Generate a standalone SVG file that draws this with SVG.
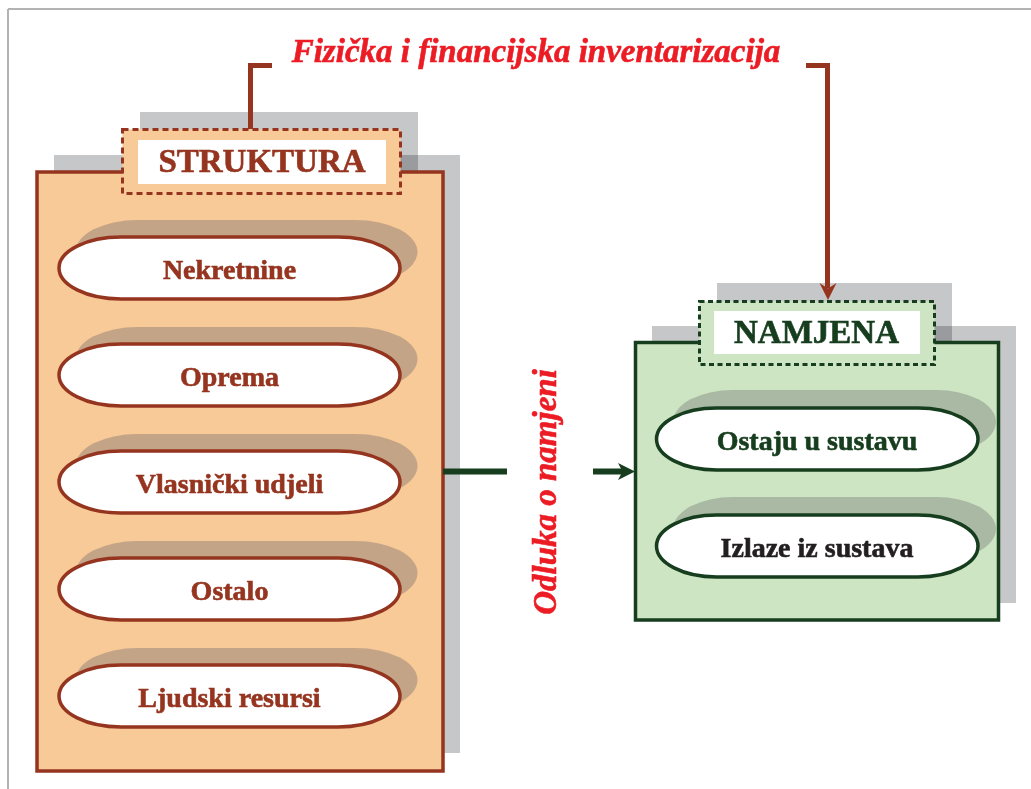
<svg xmlns="http://www.w3.org/2000/svg" width="1031" height="789" viewBox="0 0 1031 789">
  <style>
    .frame { stroke: #b3b3b3; stroke-width: 2; fill: none; }
    .gsh { fill: #c6c7c9; mix-blend-mode: multiply; }
    .bbox { fill: #f8ca97; stroke: #95341f; stroke-width: 3.5; }
    .blabel { fill: #f8ca97; stroke: #95341f; stroke-width: 3; stroke-dasharray: 6 4; }
    .gbox { fill: #cee5c3; stroke: #163d1d; stroke-width: 3.5; }
    .glabel { fill: #cee5c3; stroke: #163d1d; stroke-width: 3; stroke-dasharray: 5 3.5; }
    .white { fill: #ffffff; }
    .bpill { fill: #ffffff; stroke: #95341f; stroke-width: 3.5; }
    .bpsh { fill: #c4a487; }
    .gpill { fill: #ffffff; stroke: #163d1d; stroke-width: 3.5; }
    .gpsh { fill: #a9b9a4; }
    .t { font-family: "Liberation Serif", "Times New Roman", serif; font-weight: bold; text-anchor: middle; stroke-width: 0.6; }
    .head { font-size: 33px; }
    .item { font-size: 28px; }
    .btxt { fill: #95341f; stroke: #95341f; }
    .gtxt { fill: #163d1d; stroke: #163d1d; }
    .ktxt { fill: #231f20; stroke: #231f20; }
    .red { fill: #ec1c24; stroke: #ec1c24; font-style: italic; font-size: 33px; }
    .bline { stroke: #95341f; stroke-width: 5; fill: none; stroke-linejoin: miter; }
    .gline { stroke: #163d1d; stroke-width: 6; fill: none; }
  </style>

  <g id="frame">
    <line class="frame" x1="8" y1="9" x2="1031" y2="9"/>
    <line class="frame" x1="8" y1="9" x2="8" y2="789"/>
  </g>

  <g id="struktura">
    <rect class="gsh" x="54" y="155" width="406" height="598"/>
    <rect class="gsh" x="140" y="112" width="278" height="90"/>
    <rect class="bbox" x="37" y="172" width="406" height="599"/>
    <rect class="blabel" x="122.5" y="129.5" width="278" height="64"/>
    <rect class="white" x="138" y="140" width="248" height="44"/>
    <text class="t head btxt" x="262" y="172">STRUKTURA</text>
  </g>

  <g id="nekretnine">
    <rect class="bpsh" x="75.5" y="220" width="342" height="64" rx="62" ry="32"/>
    <rect class="bpill" x="59" y="237" width="341" height="62" rx="62" ry="31"/>
    <text class="t item btxt" x="229.5" y="279">Nekretnine</text>
  </g>
  <g id="oprema">
    <rect class="bpsh" x="75.5" y="327" width="342" height="64" rx="62" ry="32"/>
    <rect class="bpill" x="59" y="344" width="341" height="62" rx="62" ry="31"/>
    <text class="t item btxt" x="229.5" y="386">Oprema</text>
  </g>
  <g id="vlasnicki">
    <rect class="bpsh" x="75.5" y="434" width="342" height="64" rx="62" ry="32"/>
    <rect class="bpill" x="59" y="451" width="341" height="62" rx="62" ry="31"/>
    <text class="t item btxt" x="229.5" y="493">Vlasnički udjeli</text>
  </g>
  <g id="ostalo">
    <rect class="bpsh" x="75.5" y="541" width="342" height="64" rx="62" ry="32"/>
    <rect class="bpill" x="59" y="558" width="341" height="62" rx="62" ry="31"/>
    <text class="t item btxt" x="229.5" y="600">Ostalo</text>
  </g>
  <g id="ljudski">
    <rect class="bpsh" x="75.5" y="648" width="342" height="64" rx="62" ry="32"/>
    <rect class="bpill" x="59" y="665" width="341" height="62" rx="62" ry="31"/>
    <text class="t item btxt" x="229.5" y="707">Ljudski resursi</text>
  </g>

  <g id="namjena">
    <rect class="gsh" x="652" y="326" width="364" height="277"/>
    <rect class="gsh" x="717" y="283" width="235" height="80"/>
    <rect class="gbox" x="635.5" y="342.5" width="363" height="277.5"/>
    <rect class="glabel" x="699.5" y="301.5" width="235" height="63"/>
    <rect class="white" x="714" y="311" width="206" height="43"/>
    <text class="t head gtxt" x="816.5" y="343">NAMJENA</text>
  </g>

  <g id="ostaju">
    <rect class="gpsh" x="673" y="390" width="323" height="64" rx="60" ry="32"/>
    <rect class="gpill" x="656.5" y="408" width="321.5" height="62" rx="60" ry="31"/>
    <text class="t item gtxt" x="817" y="450">Ostaju u sustavu</text>
  </g>
  <g id="izlaze">
    <rect class="gpsh" x="673" y="497" width="323" height="64" rx="60" ry="32"/>
    <rect class="gpill" x="656.5" y="515" width="321.5" height="62" rx="60" ry="31"/>
    <text class="t item ktxt" x="817" y="557">Izlaze iz sustava</text>
  </g>

  <g id="connectors">
    <path class="bline" d="M272,65.5 H250.5 V129"/>
    <path class="bline" d="M806,65.5 H827.5 V288"/>
    <polygon fill="#95341f" points="819.5,283 828,288.5 836.5,283 828,300"/>
    <line class="gline" x1="443" y1="471.5" x2="507" y2="471.5"/>
    <line class="gline" x1="593" y1="471.5" x2="624" y2="471.5"/>
    <polygon fill="#163d1d" points="618,463 635,471.5 618,480 622.5,471.5"/>
  </g>

  <g id="labels">
    <text class="t red" x="536" y="62">Fizička i financijska inventarizacija</text>
    <text class="t red" x="556" y="492" transform="rotate(-90 556 492)">Odluka o namjeni</text>
  </g>
</svg>
